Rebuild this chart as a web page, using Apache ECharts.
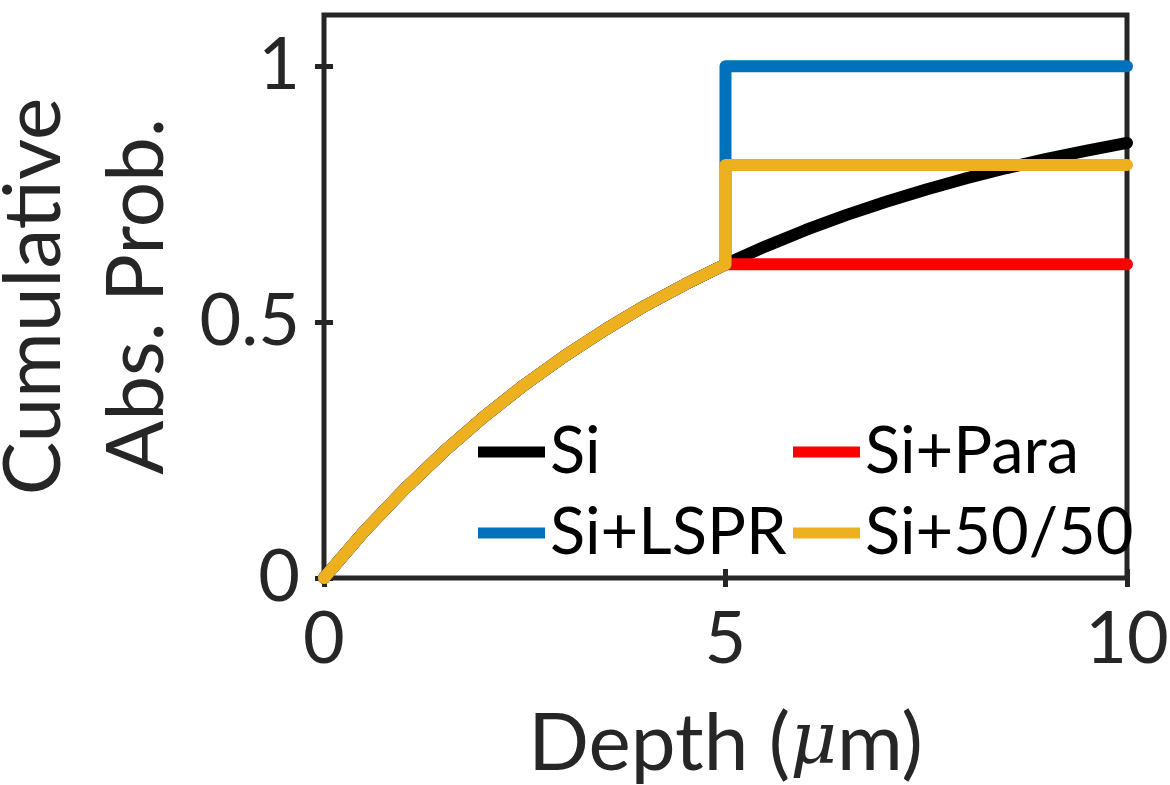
<!DOCTYPE html>
<html>
<head>
<meta charset="utf-8">
<script src="https://cdn.jsdelivr.net/npm/echarts@6/dist/echarts.min.js"></script>
<style>
  html, body { margin: 0; padding: 0; background: #fff; }
  #chart { width: 1170px; height: 785px; }
</style>
</head>
<body>
<div id="chart"></div>
<script>
// Depth grid (µm) and cumulative absorption in bare silicon
const depthUm = [0, 0.5, 1, 1.5, 2, 2.5, 3, 3.5, 4, 4.5, 5, 5.5, 6, 6.5, 7, 7.5, 8, 8.5, 9, 9.5, 10];
const siAbs = [0, 0.091, 0.173, 0.248, 0.316, 0.378, 0.434, 0.485, 0.532, 0.574, 0.613,
               0.648, 0.680, 0.709, 0.735, 0.759, 0.781, 0.801, 0.819, 0.835, 0.850];

// Absorber layer position and the plateau each variant reaches after it
const layerDepth = 5;
const paraLevel = 0.613;
const lsprLevel = 1.0;
const mixLevel = 0.807;

const seriesNames = ['Si', 'Si+Para', 'Si+LSPR', 'Si+50/50'];
const seriesColors = ['#000000', '#FF0000', '#0072BD', '#EDB120'];
const xTicks = [0, 5, 10];
const yTicks = [0, 0.5, 1];

const FONT = 'Lato';
const AXIS_COLOR = '#262626';

// silicon curve down to the layer, then a step to the plateau
function stepped(level) {
  const pts = [];
  depthUm.forEach((d, i) => { if (d <= layerDepth) pts.push([d, siAbs[i]]); });
  pts.push([layerDepth, level]);
  pts.push([depthUm[depthUm.length - 1], level]);
  return pts;
}

const seriesData = [
  depthUm.map((d, i) => [d, siAbs[i]]),
  stepped(paraLevel),
  stepped(lsprLevel),
  stepped(mixLevel)
];

const tickStyle = { show: true, inside: true, length: 9, lineStyle: { color: AXIS_COLOR, width: 5 } };
const labelStyle = { fontFamily: FONT, fontSize: 72, color: AXIS_COLOR };

function xAxisDef(pos, labels) {
  return {
    type: 'value', position: pos, min: 0, max: 10, interval: 5,
    axisLine: { show: false },
    axisTick: Object.assign({ customValues: xTicks }, tickStyle),
    axisLabel: Object.assign({ show: labels, margin: 26, customValues: xTicks }, labelStyle),
    splitLine: { show: false }
  };
}
function yAxisDef(pos, labels) {
  return {
    type: 'value', position: pos, min: 0, max: 1.1, interval: 0.5,
    axisLine: { show: false },
    axisTick: Object.assign({ customValues: yTicks }, tickStyle),
    axisLabel: Object.assign({
      show: labels, margin: 24, customValues: yTicks,
      formatter: v => (v > 1.05 ? '' : String(v))
    }, labelStyle),
    splitLine: { show: false }
  };
}

const xBottom = xAxisDef('bottom', true);
xBottom.name = '{n|Depth (}{i|\u03bc}{n|m)}';
xBottom.nameLocation = 'middle';
xBottom.nameGap = 126;
xBottom.nameTextStyle = {
  rich: {
    n: { fontFamily: FONT, fontSize: 80, color: AXIS_COLOR },
    i: { fontFamily: 'DejaVu Serif', fontStyle: 'italic', fontSize: 72, color: AXIS_COLOR }
  }
};

const yLeft = yAxisDef('left', true);
yLeft.name = 'Cumulative\nAbs. Prob.';
yLeft.nameLocation = 'middle';
yLeft.nameRotate = 90;
yLeft.nameGap = 128;
yLeft.nameTextStyle = { fontFamily: FONT, fontSize: 80, lineHeight: 103, color: AXIS_COLOR };

const legendRows = [452, 533];
const legendCols = [478, 793];
const legendPos = [
  [legendCols[0], legendRows[0]],
  [legendCols[1], legendRows[0]],
  [legendCols[0], legendRows[1]],
  [legendCols[1], legendRows[1]]
];
const LEGEND_FS = 65;

const option = {
  backgroundColor: '#ffffff',
  animation: false,
  grid: {
    left: 324, right: 43, top: 15, bottom: 207,
    outerBoundsMode: 'none',
    containLabel: false,
    show: true, borderColor: AXIS_COLOR, borderWidth: 5, backgroundColor: 'transparent'
  },
  xAxis: [xBottom, xAxisDef('top', false)],
  yAxis: [yLeft, yAxisDef('right', false)],
  legend: seriesNames.map((name, i) => ({
    data: [name],
    left: legendPos[i][0],
    top: legendPos[i][1] - LEGEND_FS / 2,
    padding: 0,
    icon: 'rect',
    itemWidth: 67,
    itemHeight: 11,
    textStyle: { fontFamily: FONT, fontSize: LEGEND_FS, color: '#000', lineHeight: LEGEND_FS }
  })),
  series: seriesNames.map((name, i) => ({
    name: name,
    type: 'line',
    data: seriesData[i],
    showSymbol: false,
    symbol: 'none',
    clip: false,
    color: seriesColors[i],
    lineStyle: { color: seriesColors[i], width: 12, cap: 'round', join: 'round' },
    z: 3 + i
  }))
};

const chart = echarts.init(document.getElementById('chart'), null, { renderer: 'canvas' });
chart.setOption(option);
</script>
</body>
</html>
